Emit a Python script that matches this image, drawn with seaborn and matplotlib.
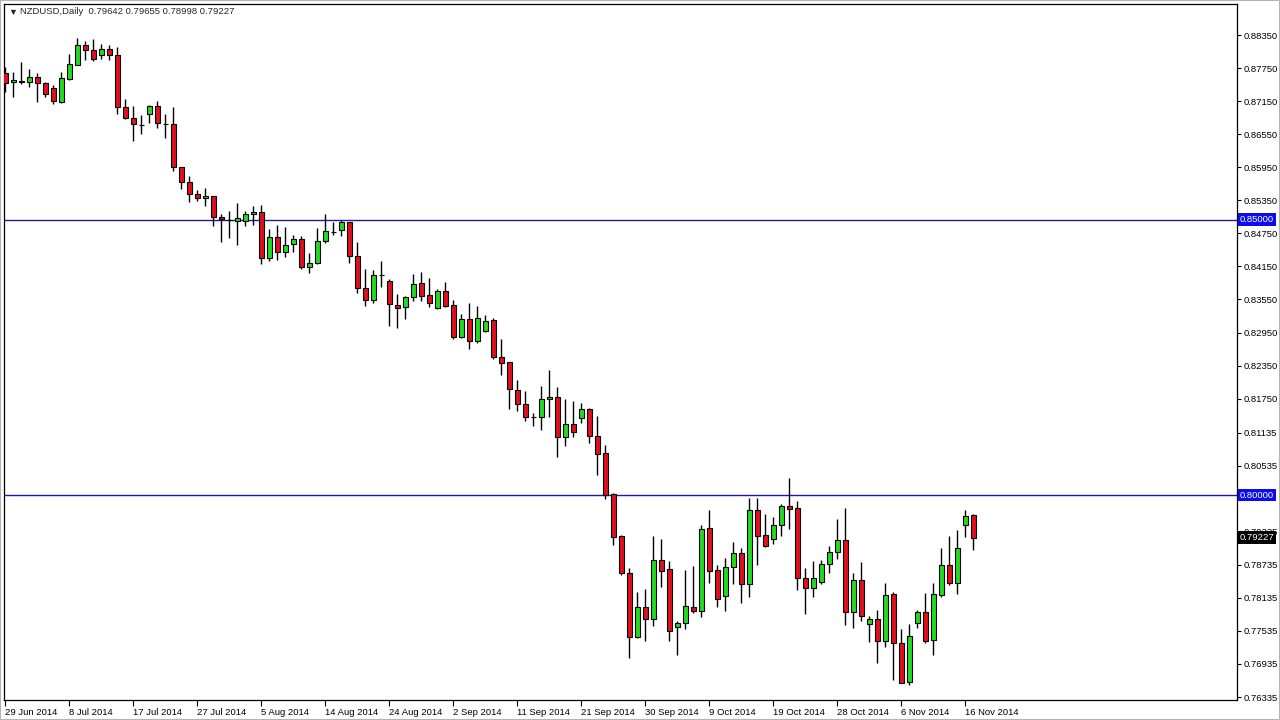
"""NZDUSD daily candles, 29 Jun - 17 Nov 2014, MT4 style."""

import numpy as np
import pandas as pd
import seaborn as sns
import matplotlib
matplotlib.use('Agg')
import matplotlib.pyplot as plt
from matplotlib.patches import Rectangle
from matplotlib.transforms import blended_transform_factory

# OHLC (one bar per trading day, Sunday bars included)
opens = [
    0.87655, 0.87491, 0.87502, 0.87502, 0.87593, 0.87473, 0.87394, 0.87139, 0.87557, 0.87811,
    0.88169, 0.88078, 0.87987, 0.88096, 0.87987, 0.87038, 0.86838, 0.86724, 0.86911, 0.87056,
    0.86742, 0.86729, 0.85949, 0.85687, 0.85459, 0.85392, 0.85428, 0.85052, 0.84994, 0.84980,
    0.84974, 0.85096, 0.85134, 0.84312, 0.84678, 0.84406, 0.84551, 0.84644, 0.84148, 0.84206,
    0.84607, 0.84782, 0.84805, 0.84951, 0.84344, 0.83753, 0.83540, 0.83991, 0.83885, 0.83444,
    0.83408, 0.83589, 0.83849, 0.83626, 0.83401, 0.83704, 0.83444, 0.82874, 0.83195, 0.82802,
    0.82972, 0.83177, 0.82515, 0.82410, 0.81903, 0.81647, 0.81424, 0.81422, 0.81738, 0.81776,
    0.81059, 0.81284, 0.81408, 0.81557, 0.81081, 0.80758, 0.80014, 0.79257, 0.78580, 0.77429,
    0.77963, 0.77745, 0.78821, 0.78652, 0.77600, 0.77672, 0.77974, 0.77901, 0.79397, 0.78640,
    0.78173, 0.78700, 0.78943, 0.78380, 0.79725, 0.79270, 0.79197, 0.79451, 0.79798, 0.79760,
    0.78504, 0.78308, 0.78427, 0.78743, 0.78961, 0.79184, 0.77883, 0.78458, 0.77654, 0.77745,
    0.77357, 0.78199, 0.77309, 0.76612, 0.77672, 0.77872, 0.77369, 0.78186, 0.78725, 0.78409,
    0.79451, 0.79642,
]
highs = [
    0.87764, 0.87673, 0.87860, 0.87727, 0.87655, 0.87502, 0.87443, 0.87678, 0.88005, 0.88290,
    0.88241, 0.88277, 0.88181, 0.88169, 0.88138, 0.87183, 0.87061, 0.86898, 0.87080, 0.87152,
    0.86916, 0.87038, 0.85952, 0.85791, 0.85537, 0.85568, 0.85430, 0.85096, 0.85156, 0.85306,
    0.85156, 0.85246, 0.85265, 0.84825, 0.84902, 0.84865, 0.84720, 0.84696, 0.84388, 0.84842,
    0.85101, 0.84965, 0.84992, 0.84961, 0.84588, 0.84103, 0.84085, 0.84248, 0.83916, 0.83644,
    0.83613, 0.84012, 0.84048, 0.83934, 0.83734, 0.83867, 0.83540, 0.83281, 0.83480, 0.83431,
    0.83263, 0.83208, 0.82827, 0.82420, 0.82088, 0.81889, 0.81495, 0.81979, 0.82270, 0.81958,
    0.81740, 0.81707, 0.81667, 0.81589, 0.81435, 0.80909, 0.80043, 0.79275, 0.78671, 0.78235,
    0.78295, 0.79257, 0.79202, 0.78803, 0.77714, 0.78640, 0.78712, 0.79457, 0.79729, 0.78731,
    0.78852, 0.79143, 0.79045, 0.79947, 0.79947, 0.79656, 0.79607, 0.79838, 0.80310, 0.79889,
    0.78676, 0.78803, 0.78821, 0.79075, 0.79560, 0.79760, 0.78580, 0.78790, 0.77805, 0.77914,
    0.78398, 0.78235, 0.77564, 0.77660, 0.77914, 0.78217, 0.78398, 0.79034, 0.79257, 0.79366,
    0.79729, 0.79655,
]
lows = [
    0.87321, 0.87230, 0.87455, 0.87401, 0.87128, 0.87230, 0.87098, 0.87121, 0.87533, 0.87800,
    0.87896, 0.87878, 0.87909, 0.87896, 0.86911, 0.86820, 0.86432, 0.86548, 0.86758, 0.86668,
    0.86475, 0.85882, 0.85550, 0.85324, 0.85337, 0.85252, 0.84889, 0.84588, 0.84671, 0.84539,
    0.84892, 0.84907, 0.84188, 0.84254, 0.84266, 0.84326, 0.84417, 0.84097, 0.84036, 0.84188,
    0.84569, 0.84729, 0.84711, 0.84206, 0.83673, 0.83437, 0.83480, 0.83771, 0.83068, 0.83038,
    0.83190, 0.83528, 0.83528, 0.83419, 0.83382, 0.83419, 0.82827, 0.82856, 0.82651, 0.82765,
    0.82965, 0.82475, 0.82179, 0.81567, 0.81531, 0.81350, 0.81259, 0.81181, 0.81411, 0.80696,
    0.80894, 0.81057, 0.81313, 0.80950, 0.80364, 0.79923, 0.79094, 0.78549, 0.77048, 0.77400,
    0.77357, 0.77623, 0.78337, 0.77351, 0.77102, 0.77574, 0.77854, 0.77792, 0.78409, 0.77974,
    0.77901, 0.78386, 0.78035, 0.78155, 0.78736, 0.79063, 0.79117, 0.79257, 0.79393, 0.78282,
    0.77836, 0.78150, 0.78386, 0.78591, 0.78834, 0.77641, 0.77582, 0.77714, 0.77338, 0.76957,
    0.77248, 0.76643, 0.76583, 0.76553, 0.77582, 0.77309, 0.77097, 0.78155, 0.78368, 0.78204,
    0.79244, 0.78998,
]
closes = [
    0.87484, 0.87533, 0.87521, 0.87593, 0.87473, 0.87274, 0.87147, 0.87564, 0.87818, 0.88169,
    0.88078, 0.87914, 0.88096, 0.87987, 0.87038, 0.86838, 0.86729, 0.86720, 0.87056, 0.86747,
    0.86738, 0.85949, 0.85687, 0.85464, 0.85386, 0.85433, 0.85052, 0.85005, 0.84990, 0.85023,
    0.85101, 0.85134, 0.84312, 0.84678, 0.84406, 0.84539, 0.84644, 0.84145, 0.84206, 0.84607,
    0.84789, 0.84778, 0.84951, 0.84344, 0.83753, 0.83540, 0.83989, 0.83987, 0.83462, 0.83390,
    0.83589, 0.83825, 0.83618, 0.83480, 0.83704, 0.83437, 0.82874, 0.83195, 0.82802, 0.83214,
    0.83165, 0.82511, 0.82402, 0.81920, 0.81647, 0.81422, 0.81420, 0.81738, 0.81774, 0.81059,
    0.81284, 0.81150, 0.81557, 0.81081, 0.80754, 0.80001, 0.79244, 0.78591, 0.77429, 0.77974,
    0.77745, 0.78821, 0.78627, 0.77538, 0.77672, 0.77981, 0.77901, 0.79378, 0.78627, 0.78108,
    0.78689, 0.78943, 0.78380, 0.79725, 0.79262, 0.79081, 0.79451, 0.79798, 0.79756, 0.78504,
    0.78308, 0.78489, 0.78743, 0.78961, 0.79184, 0.77883, 0.78458, 0.77810, 0.77745, 0.77357,
    0.78186, 0.77309, 0.76594, 0.77442, 0.77872, 0.77357, 0.78199, 0.78725, 0.78409, 0.79034,
    0.79620, 0.79227,
]

# trading days: MT4 feed with Sunday bars, no Saturdays
dates = [d for d in pd.date_range('2014-06-29', '2014-11-17') if d.dayofweek != 5]

price_ticks = [
    0.88350, 0.87750, 0.87150, 0.86550, 0.85950, 0.85350, 0.84750, 0.84150, 0.83550,
    0.82950, 0.82350, 0.81750, 0.81135, 0.80535, 0.79935, 0.79335, 0.78735, 0.78135,
    0.77535, 0.76935, 0.76335,
]
hidden_ticks = [0.79935]   # label sits under the 0.80000 box
levels = [0.85000, 0.80000]
last_price = 0.79227
header = 'NZDUSD,Daily  0.79642 0.79655 0.78998 0.79227'

BULL = '#22dc22'
BEAR = '#e0101e'
LEVEL = '#1a1aa8'
FS = 6.8

sns.set_theme(style='white')
plt.rcParams['font.family'] = ['Liberation Sans', 'DejaVu Sans']

df = pd.DataFrame({'date': dates, 'open': opens, 'high': highs,
                   'low': lows, 'close': closes})
df['x'] = np.arange(len(df))
df['bottom'] = df[['open', 'close']].min(axis=1)
df['body'] = (df['close'] - df['open']).abs()
df['color'] = np.where(df['close'] >= df['open'], BULL, BEAR)

fig = plt.figure(figsize=(12.8, 7.2), dpi=100)
ax = fig.add_axes([4 / 1280, 20 / 720, 1233 / 1280, 696 / 720])

for lv in levels:
    ax.axhline(lv, color=LEVEL, lw=1, zorder=1.5)

ax.vlines(df['x'], df['low'], df['high'], colors='black', lw=1, zorder=2)
ax.bar(df['x'], df['body'], bottom=df['bottom'], width=0.64, color=df['color'],
       edgecolor='black', linewidth=0.8, zorder=3)

ax.set_xlim(-0.16, 153.96)
ax.set_ylim(0.76281, 0.88913)

# price scale on the right
ax.yaxis.tick_right()
ax.set_yticks(price_ticks)
ax.set_yticklabels(['' if v in hidden_ticks else f'{v:.5f}' for v in price_ticks])
ax.tick_params(axis='y', direction='out', length=3, width=0.8, pad=2,
               labelsize=FS, colors='black', right=True, left=False)

# time scale: every 8th bar
idx = list(range(0, len(df), 8))
ax.set_xticks(idx)
ax.set_xticklabels([f'{dates[i].day} {dates[i]:%b} {dates[i].year}' for i in idx])
ax.tick_params(axis='x', direction='out', length=4, width=0.8, pad=2,
               labelsize=FS, colors='black', bottom=True)
for lbl in ax.get_xticklabels():
    lbl.set_horizontalalignment('left')

for sp in ax.spines.values():
    sp.set_color('black')
    sp.set_linewidth(0.9)
ax.grid(False)
ax.set_xlabel('')
ax.set_ylabel('')

# boxed prices on the scale
trans = blended_transform_factory(ax.transAxes, ax.transData)
for lv in levels:
    ax.text(1.0022, lv, f'{lv:.5f}', transform=trans, ha='left', va='center',
            color='white', fontsize=FS, clip_on=False, zorder=6,
            bbox=dict(boxstyle='square,pad=0.2', fc='#0c0cf0', ec='none'))
ax.text(1.0022, last_price, f'{last_price:.5f}', transform=trans, ha='left',
        va='center', color='white', fontsize=FS, clip_on=False, zorder=6,
        bbox=dict(boxstyle='square,pad=0.2', fc='black', ec='none'))

# header
fig.text(8 / 1280, 1 - 12 / 720, '\u25bc', fontsize=6.5, ha='left', va='center')
fig.text(20 / 1280, 1 - 12 / 720, header, fontsize=FS, ha='left', va='center')

fig.patches.append(Rectangle((0, 0), 1, 1, transform=fig.transFigure, fill=False,
                             ec='#b4b4b4', lw=1.5))

fig.savefig('out.png', dpi=100)
